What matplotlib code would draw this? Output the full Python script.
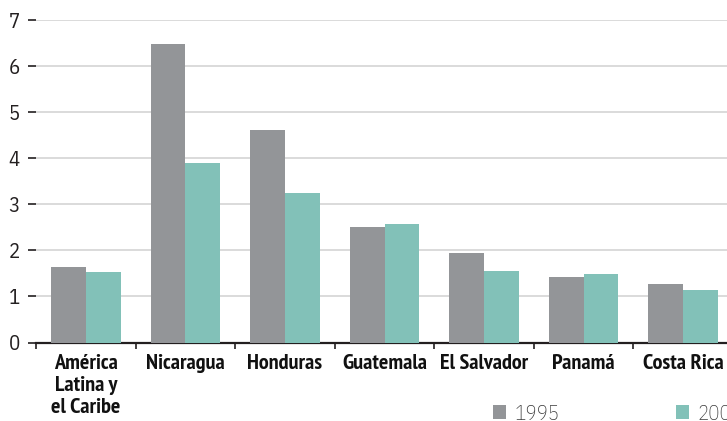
import matplotlib
matplotlib.use("Agg")
import matplotlib.pyplot as plt
import numpy as np

categories = ["América\nLatina y\nel Caribe", "Nicaragua", "Honduras", "Guatemala",
              "El Salvador", "Panamá", "Costa Rica"]
series_names = ["1995", "2006"]
values_1995 = [1.64, 6.48, 4.61, 2.51, 1.95, 1.43, 1.28]
values_2006 = [1.53, 3.90, 3.24, 2.57, 1.56, 1.48, 1.15]
yticks = [0, 1, 2, 3, 4, 5, 6, 7]

GRAY = "#939598"
TEAL = "#82c1b8"
GRID = "#d4d4d4"
DARK = "#231f20"
FAM_B = ["PT Sans Narrow", "DejaVu Sans"]
FAM_L = ["IBM Plex Sans Condensed", "PT Sans Narrow", "DejaVu Sans"]

fig = plt.figure(figsize=(7.27, 4.21), dpi=100)
W, H = 727, 421
ax = fig.add_axes([36 / W, 1 - 342.5 / H, (733 - 36) / W, (342.5 - 20) / H])

x = np.arange(len(categories))
bw = 0.35
b1 = ax.bar(x - bw / 2, values_1995, bw, color=GRAY, label=series_names[0], zorder=3)
b2 = ax.bar(x + bw / 2, values_2006, bw, color=TEAL, label=series_names[1], zorder=3)

ax.set_xlim(-0.5, len(categories) - 0.5)
ax.set_ylim(0, 7)
ax.set_yticks(yticks)
ax.set_yticklabels([str(t) for t in yticks], family=FAM_L, fontweight="normal",
                   fontsize=15, color=DARK)
ax.tick_params(axis="y", length=5.5, width=1.2, color=DARK, pad=6)
for t in yticks[1:]:
    ax.axhline(t, color=GRID, lw=1.2, zorder=1)

ax.set_xticks(x)
ax.set_xticklabels(categories, family=FAM_B, fontsize=16, fontweight="bold",
                   color="#111111", linespacing=1.22)
ax.tick_params(axis="x", length=0, pad=8)
ax.set_xticks(np.arange(-0.5, len(categories), 1.0), minor=True)
ax.tick_params(axis="x", which="minor", length=4, width=1.2, color=DARK)

for s in ["top", "right", "left"]:
    ax.spines[s].set_visible(False)
ax.spines["bottom"].set_linewidth(1.6)
ax.spines["bottom"].set_color(DARK)

leg = fig.legend(handles=[b1, b2], labels=series_names, loc="center left",
                 bbox_to_anchor=(493 / W, 1 - 413.5 / H), ncol=2, frameon=False,
                 prop={"family": FAM_L, "size": 15, "weight": "light"},
                 handlelength=0.62, handleheight=0.62, handletextpad=0.4,
                 columnspacing=5.6, borderpad=0, borderaxespad=0)
for t in leg.get_texts():
    t.set_color("#3a3a3a")

fig.savefig("out.png", dpi=100)
